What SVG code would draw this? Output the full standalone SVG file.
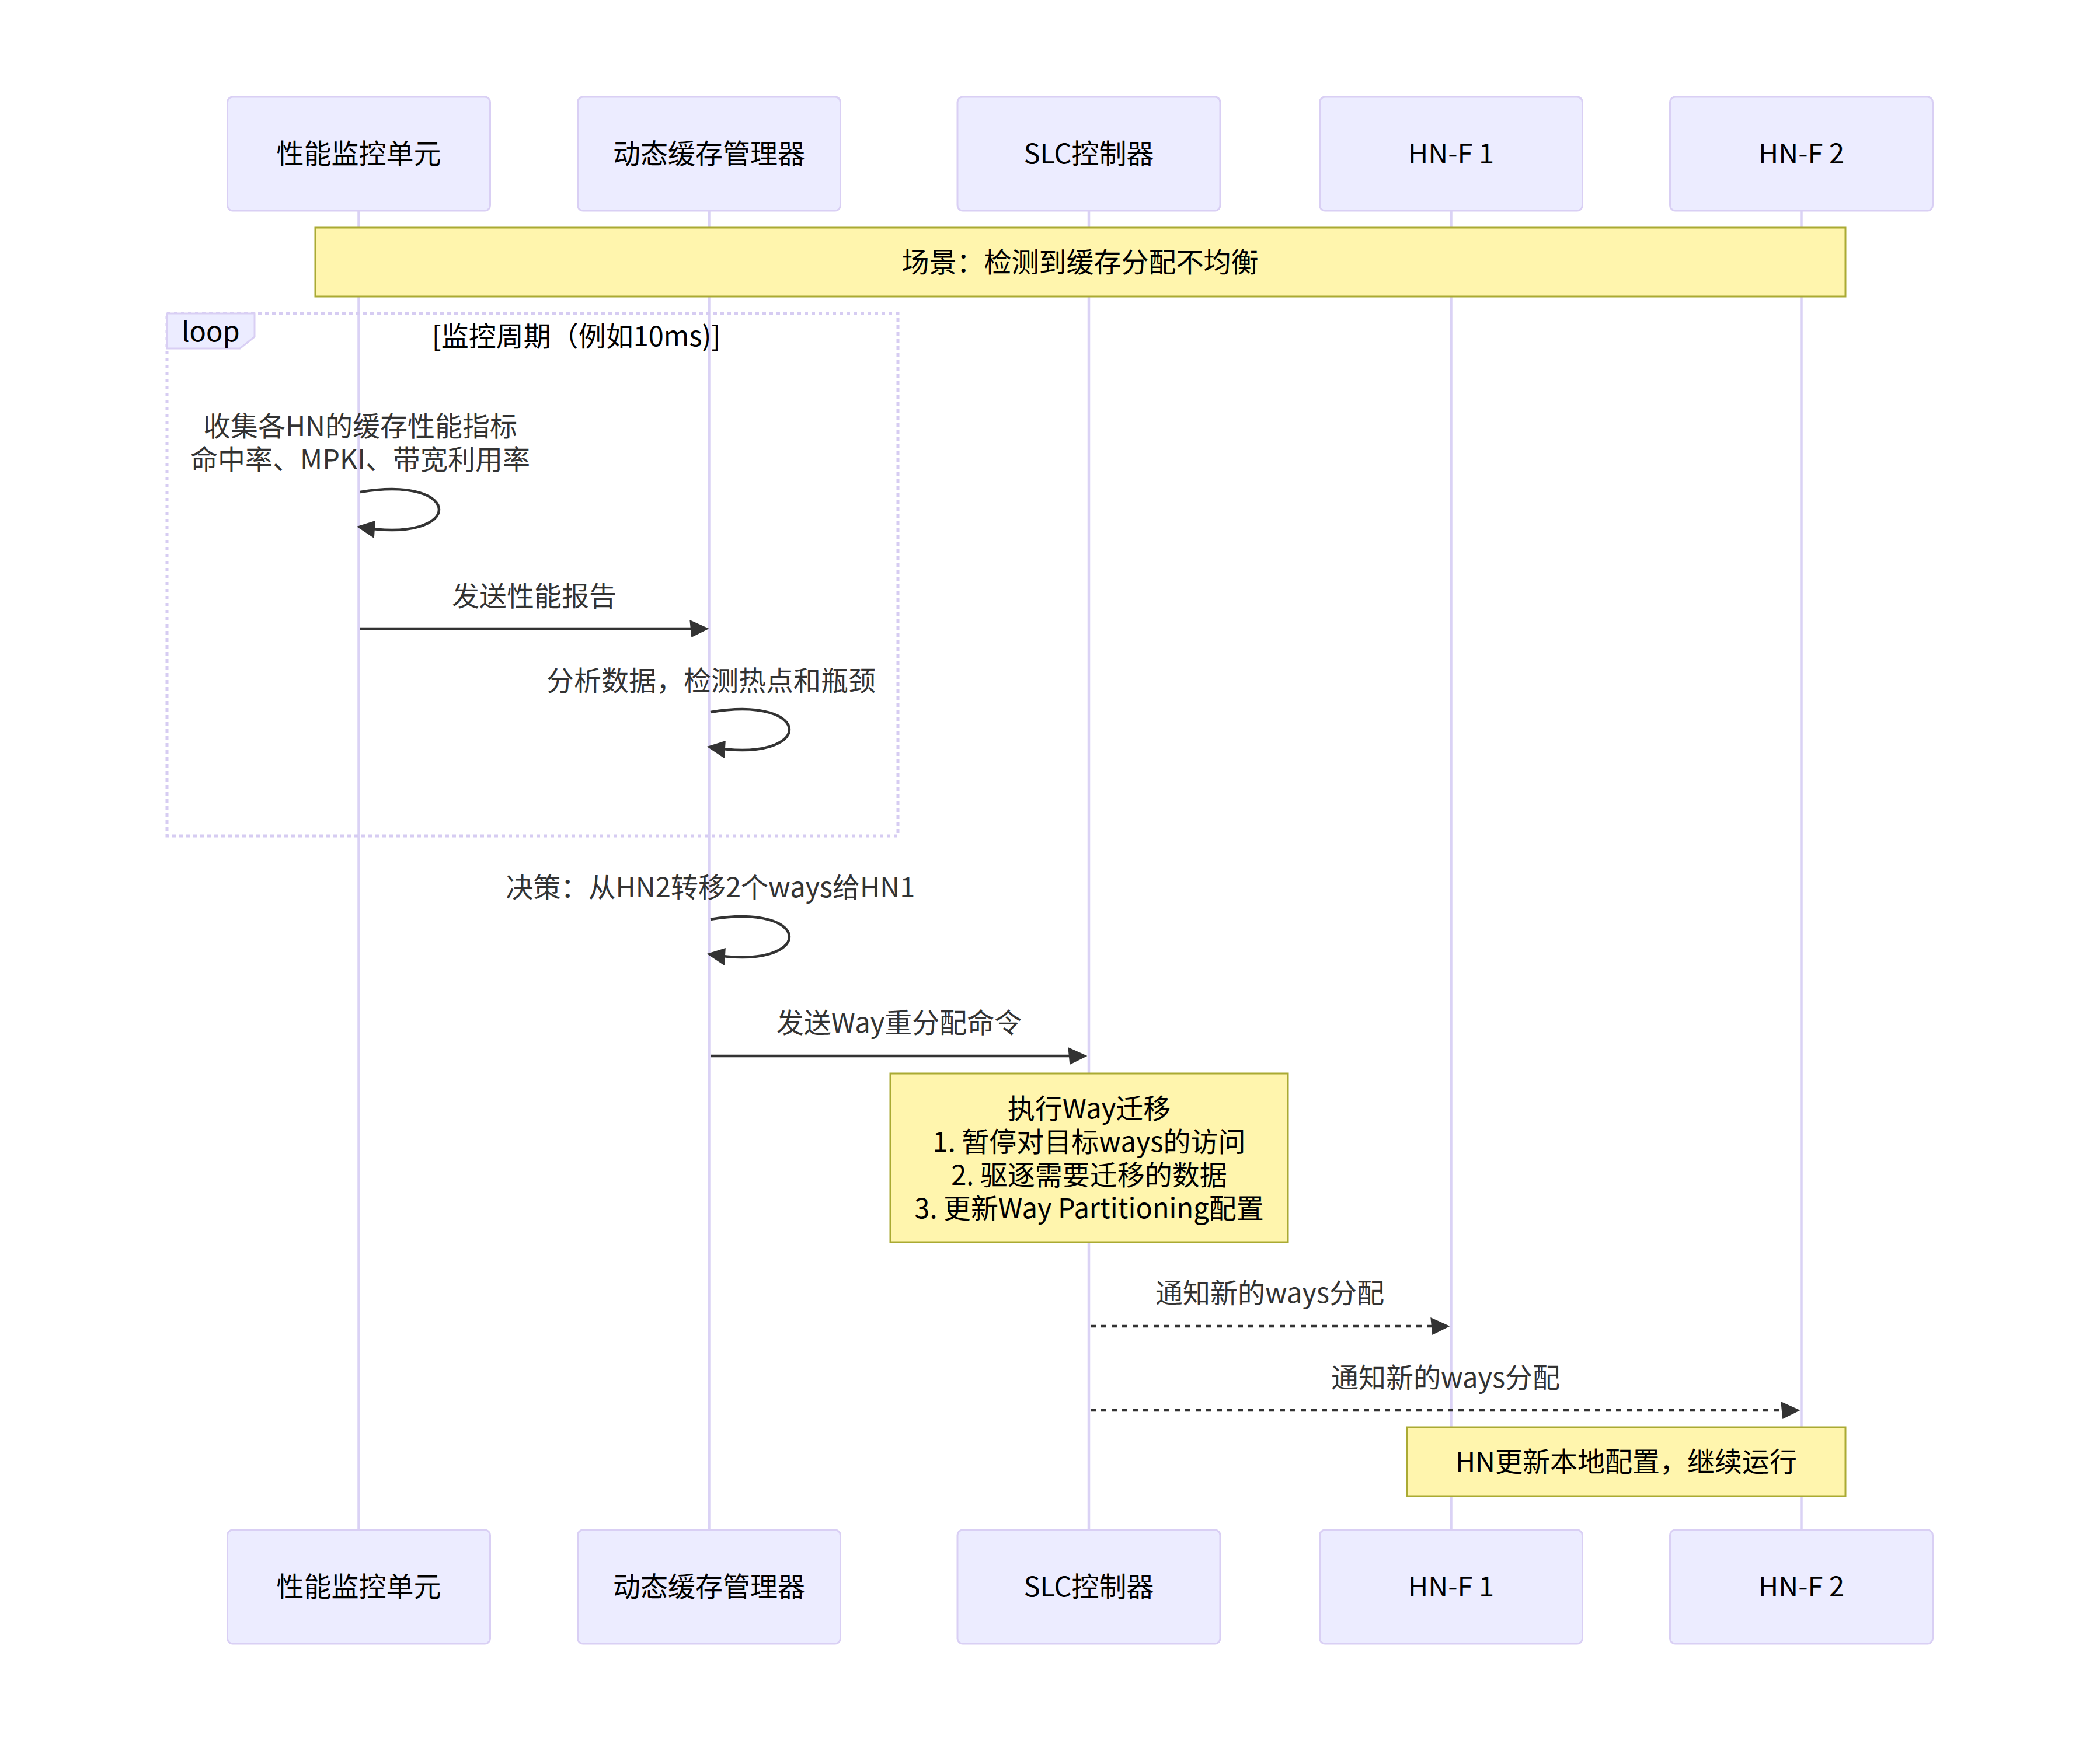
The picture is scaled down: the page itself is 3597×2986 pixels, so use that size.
<svg xmlns="http://www.w3.org/2000/svg" width="3597" height="2986" viewBox="0 0 3597 2986">
<style>
text{font-family:"Noto Sans CJK SC","Noto Sans",sans-serif;font-size:47px;text-anchor:middle;dominant-baseline:central}
.actor rect{fill:#ECECFF;stroke:#D9CFF4;stroke-width:3}
.actor text{fill:#000}
.lifeline{stroke:#DAD2F5;stroke-width:4.5}
.note rect{fill:#FFF5AD;stroke:#AAAA33;stroke-width:3}
.note text{fill:#000}
.msg{stroke:#333;stroke-width:4.5;fill:none}
.dotted{stroke-dasharray:9 9}
.mtext{fill:#333}
.loopLine{fill:none;stroke:#D6CCF2;stroke-width:5;stroke-dasharray:6 6}
.loopTab{fill:#ECECFF;stroke:#D9CFF4;stroke-width:3}
.loopText{fill:#000}
</style>
<defs>
<marker id="ah" viewBox="-1 0 11 10" refX="7.9" refY="5" markerUnits="userSpaceOnUse" markerWidth="33" markerHeight="30" orient="auto">
<path d="M -1 0 L 10 5 L 0 10 z" fill="#333"/>
</marker>
</defs>
<rect x="0" y="0" width="3597" height="2986" fill="#fff"/>

<g id="lifelines">
<line class="lifeline" x1="614.5" y1="361" x2="614.5" y2="2621"/>
<line class="lifeline" x1="1214.5" y1="361" x2="1214.5" y2="2621"/>
<line class="lifeline" x1="1865" y1="361" x2="1865" y2="2621"/>
<line class="lifeline" x1="2485.5" y1="361" x2="2485.5" y2="2621"/>
<line class="lifeline" x1="3085.5" y1="361" x2="3085.5" y2="2621"/>
</g>

<g id="actor-pmu-top" class="actor"><rect x="389.5" y="166" width="450" height="195" rx="9"/><text x="614.5" y="259">性能监控单元</text></g>
<g id="actor-dcm-top" class="actor"><rect x="989.5" y="166" width="450" height="195" rx="9"/><text x="1214.5" y="259">动态缓存管理器</text></g>
<g id="actor-slc-top" class="actor"><rect x="1640" y="166" width="450" height="195" rx="9"/><text x="1865" y="259">SLC控制器</text></g>
<g id="actor-hn1-top" class="actor"><rect x="2260.5" y="166" width="450" height="195" rx="9"/><text x="2485.5" y="259">HN-F 1</text></g>
<g id="actor-hn2-top" class="actor"><rect x="2860.5" y="166" width="450" height="195" rx="9"/><text x="3085.5" y="259">HN-F 2</text></g>

<g id="actor-pmu-bottom" class="actor"><rect x="389.5" y="2621" width="450" height="195" rx="9"/><text x="614.5" y="2714">性能监控单元</text></g>
<g id="actor-dcm-bottom" class="actor"><rect x="989.5" y="2621" width="450" height="195" rx="9"/><text x="1214.5" y="2714">动态缓存管理器</text></g>
<g id="actor-slc-bottom" class="actor"><rect x="1640" y="2621" width="450" height="195" rx="9"/><text x="1865" y="2714">SLC控制器</text></g>
<g id="actor-hn1-bottom" class="actor"><rect x="2260.5" y="2621" width="450" height="195" rx="9"/><text x="2485.5" y="2714">HN-F 1</text></g>
<g id="actor-hn2-bottom" class="actor"><rect x="2860.5" y="2621" width="450" height="195" rx="9"/><text x="3085.5" y="2714">HN-F 2</text></g>

<g id="note-scene" class="note"><rect x="540" y="390" width="2621" height="118"/><text x="1850" y="445">场景：检测到缓存分配不均衡</text></g>

<g id="loop-frame">
<rect class="loopLine" x="286" y="537" width="1252" height="895"/>
<polygon class="loopTab" points="286,537 436,537 436,577 411,597 286,597"/>
<text class="loopText" x="361" y="564">loop</text>
<text class="loopText" x="987" y="572">[监控周期（例如10ms)]</text>
</g>

<g id="connectors">
<path class="msg" d="M617,843 C797,813 797,933 617,903" marker-end="url(#ah)"/>
<line class="msg" x1="617" y1="1077" x2="1208" y2="1077" marker-end="url(#ah)"/>
<path class="msg" d="M1217,1220 C1397,1190 1397,1310 1217,1280" marker-end="url(#ah)"/>
<path class="msg" d="M1217,1575 C1397,1545 1397,1665 1217,1635" marker-end="url(#ah)"/>
<line class="msg" x1="1217" y1="1809" x2="1856" y2="1809" marker-end="url(#ah)"/>
<line class="msg dotted" x1="1868" y1="2272" x2="2477" y2="2272" marker-end="url(#ah)"/>
<line class="msg dotted" x1="1868" y1="2416" x2="3077" y2="2416" marker-end="url(#ah)"/>
</g>

<g id="message-labels">
<text class="mtext" x="617" y="726">收集各HN的缓存性能指标</text>
<text class="mtext" x="617" y="783">命中率、MPKI、带宽利用率</text>
<text class="mtext" x="915" y="1017">发送性能报告</text>
<text class="mtext" x="1218" y="1162">分析数据，检测热点和瓶颈</text>
<text class="mtext" x="1217" y="1516">决策：从HN2转移2个ways给HN1</text>
<text class="mtext" x="1540" y="1748">发送Way重分配命令</text>
<text class="mtext" x="2175" y="2211">通知新的ways分配</text>
<text class="mtext" x="2476" y="2356">通知新的ways分配</text>
</g>

<g id="note-migrate" class="note"><rect x="1525" y="1839" width="681" height="289"/>
<text x="1865.5" y="1895">执行Way迁移</text>
<text x="1865.5" y="1952">1. 暂停对目标ways的访问</text>
<text x="1865.5" y="2009">2. 驱逐需要迁移的数据</text>
<text x="1865.5" y="2066">3. 更新Way Partitioning配置</text>
</g>

<g id="note-hn" class="note"><rect x="2410" y="2445" width="751" height="118"/><text x="2785.5" y="2500">HN更新本地配置，继续运行</text></g>
</svg>
